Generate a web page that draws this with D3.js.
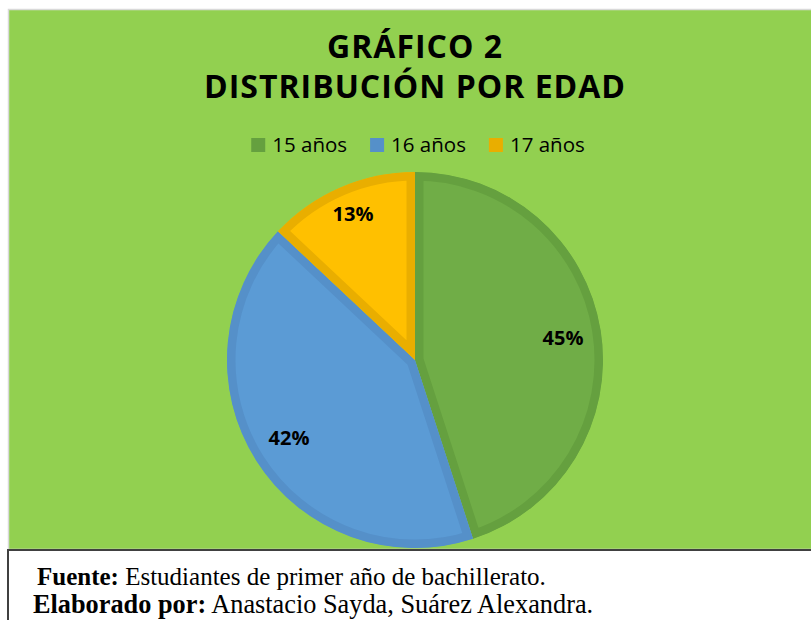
<!DOCTYPE html>
<html>
<head>
<meta charset="utf-8">
<script src="https://cdn.jsdelivr.net/npm/d3@7"></script>
<style>
  html, body { margin: 0; padding: 0; background: #fff; }
  svg { display: block; }
</style>
</head>
<body>
<div id="chart"></div>
<script>
const categories = ["15 años", "16 años", "17 años"];
const values = [45, 42, 13];
const fillColors = ["#70AD47", "#5B9BD5", "#FFC000"];
const edgeColors = ["#65A03F", "#5590C9", "#E9AE00"];
const titleLines = ["GRÁFICO 2", "DISTRIBUCIÓN POR EDAD"];
const footLines = [
    ["Fuente:", " Estudiantes de primer año de bachillerato."],
    ["Elaborado por:", " Anastacio Sayda, Suárez Alexandra."]
];

var width = 811, height = 620;

var svg = d3.select("#chart")
    .append("svg")
    .attr("width", width)
    .attr("height", height);

// chart area
svg.append("rect")
    .attr("x", 8.5).attr("y", 9.5)
    .attr("width", 820).attr("height", 540)
    .attr("fill", "#92D050")
    .attr("stroke", "#D9D9D9")
    .attr("stroke-width", 1.5);

// footer box
svg.append("rect")
    .attr("x", 8).attr("y", 550)
    .attr("width", 820).attr("height", 100)
    .attr("fill", "#fff")
    .attr("stroke", "#404040")
    .attr("stroke-width", 2);

// title
svg.selectAll("text.title")
    .data(titleLines)
    .enter()
    .append("text")
    .attr("class", "title")
    .attr("x", 415)
    .attr("y", (d, i) => 58 + i * 40)
    .attr("text-anchor", "middle")
    .style("font-family", "'Open Sans', sans-serif")
    .style("font-weight", "bold")
    .style("font-size", "32px")
    .style("letter-spacing", "1px")
    .style("fill", "#000")
    .text(d => d);

// legend
var legend = svg.append("g").attr("transform", "translate(0,145)");
var items = legend.selectAll("g")
    .data(categories)
    .enter()
    .append("g");
items.append("rect")
    .attr("y", -7)
    .attr("width", 14).attr("height", 14)
    .attr("fill", (d, i) => edgeColors[i]);
items.append("text")
    .attr("x", 21)
    .attr("y", 7)
    .style("font-family", "'Open Sans', sans-serif")
    .style("font-size", "20.5px")
    .style("fill", "#000")
    .text(d => d);
var xPos = [];
var cur = 0;
items.each(function(d, i) {
    var w = 21 + this.querySelector("text").getComputedTextLength();
    xPos.push(cur);
    cur += w + 23;
});
var total = cur - 23;
var start = 418 - total / 2;
items.attr("transform", (d, i) => "translate(" + (start + xPos[i]) + ",0)");

// pie
var cx = 415, cy = 360, r = 188, edge = 8.5;
var pie = d3.pie().sort(null).value(d => d);
var arcs = pie(values);
var arc = d3.arc().innerRadius(0).outerRadius(r);

var g = svg.append("g").attr("transform", "translate(" + cx + "," + cy + ")");
var defs = svg.append("defs");
defs.selectAll("clipPath")
    .data(arcs)
    .enter()
    .append("clipPath")
    .attr("id", (d, i) => "clip-" + i)
    .append("path")
    .attr("d", arc);

g.selectAll("path.slice")
    .data(arcs)
    .enter()
    .append("path")
    .attr("class", "slice")
    .attr("d", arc)
    .attr("fill", (d, i) => fillColors[i])
    .attr("stroke", (d, i) => edgeColors[i])
    .attr("stroke-width", edge * 2)
    .attr("stroke-linejoin", "miter")
    .attr("clip-path", (d, i) => "url(#clip-" + i + ")");

var labelPos = [[148, -22], [-126, 78], [-62, -146]];
g.selectAll("text.lbl")
    .data(arcs)
    .enter()
    .append("text")
    .attr("class", "lbl")
    .attr("x", (d, i) => labelPos[i][0])
    .attr("y", (d, i) => labelPos[i][1])
    .attr("text-anchor", "middle")
    .attr("dy", "0.35em")
    .style("font-family", "'Open Sans', sans-serif")
    .style("font-weight", "bold")
    .style("font-size", "20px")
    .style("fill", "#000")
    .text(d => d.data + "%");

// footer text
var foot = svg.selectAll("text.foot")
    .data(footLines)
    .enter()
    .append("text")
    .attr("class", "foot")
    .attr("x", (d, i) => i === 0 ? 37 : 33)
    .attr("y", (d, i) => 585 + i * 28)
    .style("font-family", "'Liberation Serif', 'Times New Roman', serif")
    .style("font-size", (d, i) => i === 0 ? "25px" : "26.3px")
    .style("fill", "#000");
foot.append("tspan").style("font-weight", "bold").text(d => d[0]);
foot.append("tspan").text(d => d[1]);
</script>
</body>
</html>
